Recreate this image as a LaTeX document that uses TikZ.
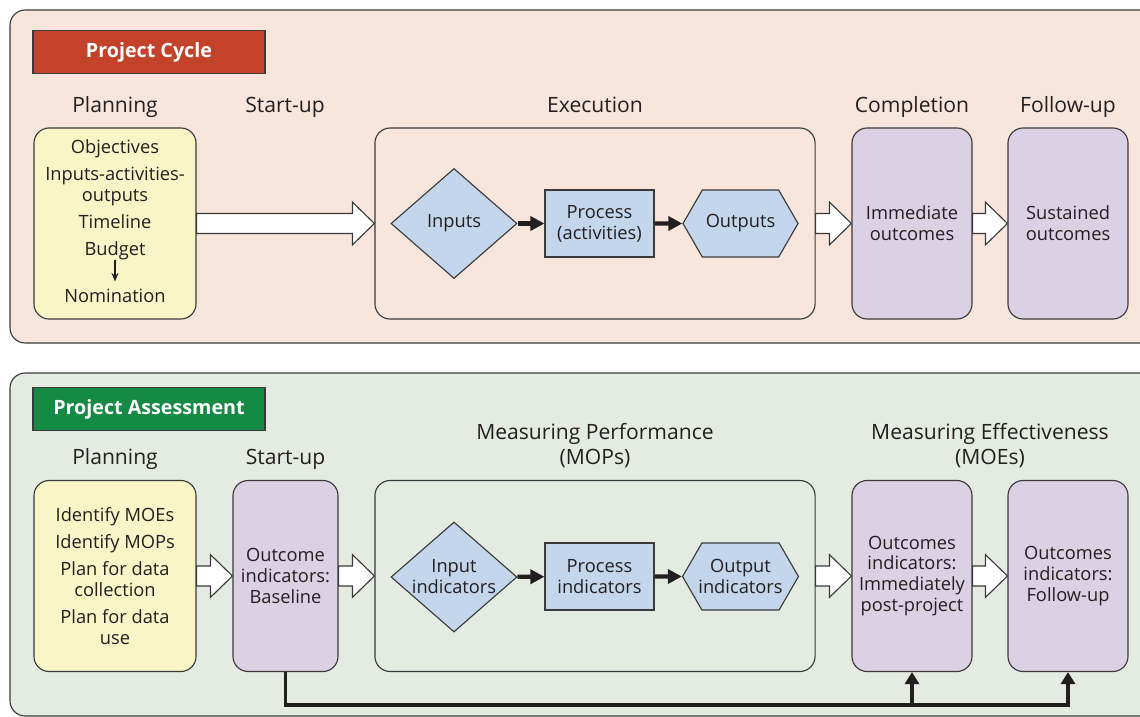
\documentclass[tikz,border=0pt]{standalone}
\usepackage{fontspec}
\setmainfont{Open Sans}
\usetikzlibrary{positioning,calc,shapes.geometric,shapes.symbols,arrows.meta}

\definecolor{cyclebg}{HTML}{F8E5DB}
\definecolor{assessbg}{HTML}{E4EBE1}
\definecolor{cyclered}{HTML}{C2432A}
\definecolor{assessgreen}{HTML}{158A44}
\definecolor{planyellow}{HTML}{F8F5C6}
\definecolor{outlilac}{HTML}{DCD0E5}
\definecolor{stepblue}{HTML}{C3D6EB}
\definecolor{edgegray}{HTML}{3A3A3A}
\definecolor{ink}{HTML}{231F20}

\tikzset{
  panel/.style={draw=edgegray, line width=0.8pt, rounded corners=0.38cm},
  title/.style={draw=edgegray, line width=0.8pt, minimum width=5.8cm, minimum height=1.07cm,
    text=white, font=\fontsize{14}{16}\selectfont\bfseries},
  hdr/.style={font=\fontsize{15}{18}\selectfont, text=ink, align=center, inner sep=0pt, text depth=0.25em},
  intext/.style={font=\fontsize{13}{14.9}\selectfont, text=ink, align=center, inner sep=0pt},
  box/.style={draw=edgegray, line width=0.8pt, rounded corners=0.38cm, minimum height=4.775cm,
    align=center, text=ink, font=\fontsize{13}{14.9}\selectfont},
  planbox/.style={box, fill=planyellow, minimum width=4.05cm},
  outbox/.style={box, fill=outlilac, minimum width=3cm},
  basebox/.style={box, fill=outlilac, minimum width=2.625cm},
  groupbox/.style={box, minimum width=11cm},
  shapebase/.style={draw=edgegray, line width=0.8pt, fill=stepblue, inner sep=0pt, align=center,
    text=ink, font=\fontsize{13}{14.9}\selectfont},
  inshape/.style={shapebase, diamond, aspect=1.15, minimum width=3.15cm, minimum height=2.75cm},
  stepbox/.style={shapebase, rectangle, minimum width=2.725cm, minimum height=1.675cm},
  outshape/.style={shapebase, signal, signal to=east and west, signal pointer angle=120,
    inner xsep=-2.5pt, minimum width=2.875cm, minimum height=1.675cm},
  fatline/.style={draw=edgegray, line width=0.8pt, fill=white},
  flow/.style={draw=ink, line width=3pt, -{Triangle[length=10pt,width=10pt]}},
  linkline/.style={draw=ink, line width=2.8pt, -{Triangle[length=8.5pt,width=10pt]}},
  smallarrow/.style={draw=ink, line width=1pt, shorten >=5pt, -{Stealth[length=6pt,width=5pt]}}
}

% wide hollow arrow from the east side of #1 to the west side of #2
\newcommand\fatarrow[2]{%
  \draw[fatline] let \p1=(#1.east), \p2=(#2.west) in
    (\x1,\y1+7.1pt) -- (\x2-15.6pt,\y1+7.1pt) -- (\x2-15.6pt,\y1+15.2pt) -- (\x2,\y1)
    -- (\x2-15.6pt,\y1-15.2pt) -- (\x2-15.6pt,\y1-7.1pt) -- (\x1,\y1-7.1pt) -- cycle;}

\begin{document}
\begin{tikzpicture}[x=0.025cm, y=-0.025cm]
\useasboundingbox (0,0) rectangle (1140,717);
\clip (0,0) rectangle (1140,717);

% project cycle
\draw[panel, fill=cyclebg] (10,10) rectangle (1170,343);
\node[title, fill=cyclered] (ctitle) at (149,52) {Project Cycle};

\node[planbox] (cplan) at (115,223.5) {};
\node[groupbox] (cexec) at (595,223.5) {};
\node[outbox] (cimm) at (912,223.5) {Immediate\\outcomes};
\node[outbox] (cfollow) at (1068,223.5) {Sustained\\outcomes};
\coordinate (cstart) at (285,128);

\node[intext, below=0.3cm of cplan.north] (cplantext)
  {Objectives\\[4.25pt]Inputs-activities-\\outputs\\[4.25pt]Timeline\\[4.25pt]Budget};
\node[intext, below=0.71cm of cplantext] (cnomin) {Nomination};
\draw[smallarrow] (cplantext) -- (cnomin);

\node[inshape] (cin) at (454,223.5) {Inputs};
\node[stepbox] (cproc) at (599.5,223.5) {Process\\(activities)};
\node[outshape] (cout) at (740.5,223.5) {Outputs};
\draw[flow] (cin) -- (cproc);
\draw[flow] (cproc) -- (cout);

\node[hdr, above=0.29cm of cplan] {Planning};
\node[hdr, above=0.29cm of cstart] {Start-up};
\node[hdr, above=0.29cm of cexec] {Execution};
\node[hdr, above=0.29cm of cimm] {Completion};
\node[hdr, above=0.29cm of cfollow] {Follow-up};

\fatarrow{cplan}{cexec}
\fatarrow{cexec}{cimm}
\fatarrow{cimm}{cfollow}

% project assessment
\draw[panel, fill=assessbg] (10,373) rectangle (1170,716);
\node[title, fill=assessgreen] (atitle) at (149,409) {Project Assessment};

\node[planbox] (aplan) at (115,576)
  {Identify MOEs\\[4.25pt]Identify MOPs\\[4.25pt]Plan for data\\collection\\[4.25pt]Plan for data\\use};
\node[basebox] (abase) at (285.5,576) {Outcome\\indicators:\\Baseline};
\node[groupbox] (amop) at (595,576) {};
\node[outbox] (aimm) at (912,576) {Outcomes\\indicators:\\Immediately\\post-project};
\node[outbox] (afollow) at (1068,576) {Outcomes\\indicators:\\Follow-up};
\coordinate (amoe) at ($(aimm.north)!0.5!(afollow.north)$);

\node[inshape] (ain) at (454,577) {Input\\indicators};
\node[stepbox] (aproc) at (599.5,576.5) {Process\\indicators};
\node[outshape] (aout) at (740.5,576.5) {Output\\indicators};
\draw[flow] (ain) -- (aproc);
\draw[flow] (aproc) -- (aout);

\node[hdr, above=0.29cm of aplan] {Planning};
\node[hdr, above=0.29cm of abase] {Start-up};
\node[hdr, above=0.29cm of amop] {Measuring Performance\\(MOPs)};
\node[hdr, above=0.29cm of amoe] {Measuring Effectiveness\\(MOEs)};

\fatarrow{aplan}{abase}
\fatarrow{abase}{amop}
\fatarrow{amop}{aimm}
\fatarrow{aimm}{afollow}

% baseline feeds both outcome checks
\coordinate (alink) at ($(abase.south)+(0,33)$);
\draw[linkline] (abase.south) |- (afollow.south |- alink) -- (afollow.south);
\draw[linkline] (aimm.south |- alink) -- (aimm.south);
\end{tikzpicture}
\end{document}
